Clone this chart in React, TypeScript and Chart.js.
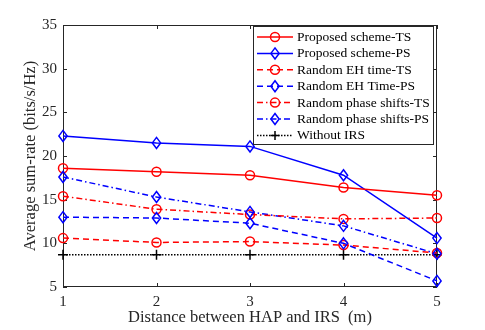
import React, { useEffect, useRef } from 'react';
import { Chart, registerables } from 'chart.js';
Chart.register(...registerables);

const distances = [1, 2, 3, 4, 5];
const proposedTS = [18.6, 18.2, 17.8, 16.4, 15.5];
const proposedPS = [22.3, 21.5, 21.1, 17.8, 10.6];
const randomEHTS = [10.6, 10.1, 10.2, 9.8, 8.9];
const randomEHPS = [13.0, 12.9, 12.3, 10.0, 5.7];
const randomPhaseTS = [15.4, 13.9, 13.3, 12.8, 12.9];
const randomPhasePS = [17.6, 15.3, 13.6, 12.0, 8.8];
const withoutIRS = [8.7, 8.7, 8.7, 8.7, 8.7];
const yTicks = [5, 10, 15, 20, 25, 30, 35];

const FONT = "'Liberation Serif', 'Times New Roman', serif";
const RED = '#ff0000';
const BLUE = '#0000ff';
const DASH: number[] = [6, 4];
const DASHDOT: number[] = [6, 3, 1.5, 3];
const DOT: number[] = [1.5, 1.5];

type Series = { label: string; values: number[]; color: string; dash: number[]; marker: string };
const series: Series[] = [
  { label: 'Proposed scheme-TS', values: proposedTS, color: RED, dash: [], marker: 'circle' },
  { label: 'Proposed scheme-PS', values: proposedPS, color: BLUE, dash: [], marker: 'rectRot' },
  { label: 'Random EH time-TS', values: randomEHTS, color: RED, dash: DASH, marker: 'circle' },
  { label: 'Random EH Time-PS', values: randomEHPS, color: BLUE, dash: DASH, marker: 'rectRot' },
  { label: 'Random phase shifts-TS', values: randomPhaseTS, color: RED, dash: DASHDOT, marker: 'circle' },
  { label: 'Random phase shifts-PS', values: randomPhasePS, color: BLUE, dash: DASHDOT, marker: 'rectRot' },
  { label: 'Without IRS', values: withoutIRS, color: '#000000', dash: DOT, marker: 'cross' },
];

function drawMarker(ctx: CanvasRenderingContext2D, kind: string, x: number, y: number, color: string) {
  ctx.save();
  ctx.setLineDash([]);
  ctx.strokeStyle = color;
  ctx.lineWidth = 1.5;
  ctx.beginPath();
  if (kind === 'circle') {
    ctx.arc(x, y, 4.5, 0, Math.PI * 2);
  } else if (kind === 'rectRot') {
    const r = 5.5;
    ctx.moveTo(x, y - r);
    ctx.lineTo(x + r * 0.75, y);
    ctx.lineTo(x, y + r);
    ctx.lineTo(x - r * 0.75, y);
    ctx.closePath();
  } else {
    ctx.moveTo(x - 4.5, y);
    ctx.lineTo(x + 4.5, y);
    ctx.moveTo(x, y - 4.5);
    ctx.lineTo(x, y + 4.5);
  }
  ctx.stroke();
  ctx.restore();
}

const framePlugin = {
  id: 'frame',
  beforeDatasetsDraw(chart: any) {
    const ctx = chart.ctx as CanvasRenderingContext2D;
    const { left, right, top, bottom } = chart.chartArea;
    const xs = chart.scales.x;
    const ys = chart.scales.y;
    ctx.save();
    ctx.strokeStyle = '#262626';
    ctx.lineWidth = 1;
    ctx.setLineDash([]);
    ctx.strokeRect(left + 0.5, top + 0.5, right - left - 1, bottom - top - 1);
    ctx.beginPath();
    const tl = 4;
    distances.forEach((d) => {
      const px = Math.round(xs.getPixelForValue(d)) + 0.5;
      ctx.moveTo(px, bottom);
      ctx.lineTo(px, bottom - tl);
      ctx.moveTo(px, top);
      ctx.lineTo(px, top + tl);
    });
    yTicks.forEach((v) => {
      const py = Math.round(ys.getPixelForValue(v)) + 0.5;
      ctx.moveTo(left, py);
      ctx.lineTo(left + tl, py);
      ctx.moveTo(right, py);
      ctx.lineTo(right - tl, py);
    });
    ctx.stroke();
    ctx.restore();
  },
  afterDraw(chart: any) {
    const ctx = chart.ctx as CanvasRenderingContext2D;
    ctx.save();
    const bx = 253.5, by = 26.5, bw = 180, bh = 118;
    ctx.fillStyle = '#ffffff';
    ctx.fillRect(bx, by, bw, bh);
    ctx.strokeStyle = '#262626';
    ctx.lineWidth = 1;
    ctx.setLineDash([]);
    ctx.strokeRect(bx, by, bw, bh);
    ctx.font = `13.5px ${FONT}`;
    ctx.textBaseline = 'middle';
    ctx.textAlign = 'left';
    series.forEach((s, i) => {
      const y = 37 + i * 16.4;
      ctx.save();
      ctx.strokeStyle = s.color;
      ctx.lineWidth = 1.5;
      ctx.setLineDash(s.dash);
      ctx.beginPath();
      ctx.moveTo(257, y);
      ctx.lineTo(293, y);
      ctx.stroke();
      ctx.restore();
      drawMarker(ctx, s.marker, 275, y, s.color);
      ctx.fillStyle = '#000000';
      ctx.fillText(s.label, 297, y + 0.5);
    });
    ctx.restore();
  },
};

export default function App() {
  const ref = useRef<HTMLCanvasElement>(null);
  useEffect(() => {
    if (!ref.current) return;
    const chart = new Chart(ref.current, {
      type: 'line',
      data: {
        datasets: series.map((s) => ({
          label: s.label,
          data: distances.map((d, i) => ({ x: d, y: s.values[i] })),
          borderColor: s.color,
          backgroundColor: 'rgba(0,0,0,0)',
          borderWidth: 1.5,
          borderDash: s.dash,
          pointStyle: s.marker === 'rectRot' ? false : (s.marker as any),
          pointRadius: s.marker === 'circle' ? 4.5 : 5,
          pointBorderColor: s.color,
          pointBackgroundColor: 'rgba(0,0,0,0)',
          pointBorderWidth: 1.5,
          fill: false,
          tension: 0,
          clip: false,
        })) as any,
      },
      options: {
        animation: false,
        responsive: false,
        maintainAspectRatio: false,
        layout: { padding: { top: 25, right: 48, left: 0, bottom: 0 } },
        plugins: { legend: { display: false }, tooltip: { enabled: false } },
        scales: {
          x: {
            type: 'linear',
            min: 1,
            max: 5,
            afterBuildTicks: (s: any) => { s.ticks = distances.map((v) => ({ value: v })); },
            ticks: { color: '#262626', font: { family: FONT, size: 15 }, padding: 6 },
            grid: { display: false, drawTicks: false },
            border: { display: false },
            title: {
              display: true,
              text: 'Distance between HAP and IRS  (m)',
              color: '#262626',
              font: { family: FONT, size: 16.5 },
              padding: { top: 2, bottom: 2 },
            },
            afterFit: (s: any) => { s.height = 43; },
          },
          y: {
            type: 'linear',
            min: 5,
            max: 35,
            afterBuildTicks: (s: any) => { s.ticks = yTicks.map((v) => ({ value: v })); },
            ticks: { color: '#262626', font: { family: FONT, size: 15 }, padding: 6 },
            grid: { display: false, drawTicks: false },
            border: { display: false },
            title: {
              display: true,
              text: 'Average sum-rate (bits/s/Hz)',
              color: '#262626',
              font: { family: FONT, size: 16.5 },
              padding: { top: 21, bottom: 0 },
            },
            afterFit: (s: any) => { s.width = 63; },
          },
        },
      },
      plugins: [
        {
          id: 'diamonds',
          afterDatasetsDraw(c: any) {
            c.data.datasets.forEach((ds: any, i: number) => {
              if (series[i].marker !== 'rectRot') return;
              const meta = c.getDatasetMeta(i);
              meta.data.forEach((pt: any) => drawMarker(c.ctx, 'rectRot', pt.x, pt.y, series[i].color));
            });
          },
        },
        framePlugin,
      ],
    });
    return () => chart.destroy();
  }, []);
  return (
    <div style={{ position: 'absolute', left: 0, top: 0, width: 485, height: 330, background: '#fff' }}>
      <canvas ref={ref} width={485} height={330} style={{ width: 485, height: 330 }} />
    </div>
  );
}
